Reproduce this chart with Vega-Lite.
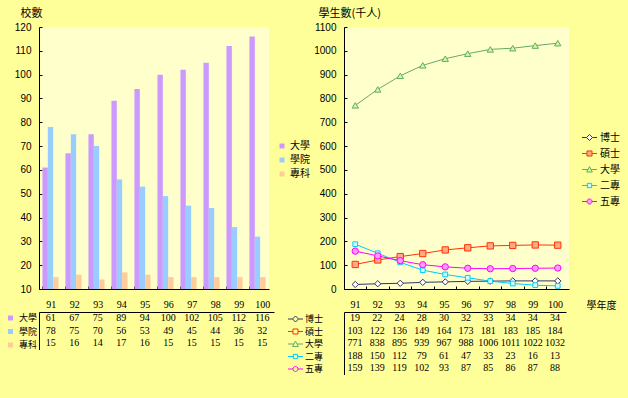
{
  "$schema": "https://vega.github.io/schema/vega-lite/v6.json",
  "background": "#FFFF99",
  "padding": {"left": 6, "top": 7, "right": 12, "bottom": 23},
  "config": {
    "view": {"stroke": null},
    "font": "Liberation Sans",
    "axis": {"domainColor": "#000000", "tickColor": "#000000", "labelColor": "#000000", "labelFontSize": 10, "labelFont": "Liberation Sans", "grid": false, "titleFont": "Noto Sans CJK TC", "titleFontWeight": "normal", "titleFontSize": 11, "titleColor": "#000000", "domainWidth": 1},
    "legend": {"labelFont": "Noto Sans CJK TC", "labelFontSize": 10, "labelColor": "#000000", "title": null, "padding": 0}
  },
  "datasets": {
    "schools": [
      {"year": 91, "type": "大學", "n": 61}, {"year": 91, "type": "學院", "n": 78}, {"year": 91, "type": "專科", "n": 15},
      {"year": 92, "type": "大學", "n": 67}, {"year": 92, "type": "學院", "n": 75}, {"year": 92, "type": "專科", "n": 16},
      {"year": 93, "type": "大學", "n": 75}, {"year": 93, "type": "學院", "n": 70}, {"year": 93, "type": "專科", "n": 14},
      {"year": 94, "type": "大學", "n": 89}, {"year": 94, "type": "學院", "n": 56}, {"year": 94, "type": "專科", "n": 17},
      {"year": 95, "type": "大學", "n": 94}, {"year": 95, "type": "學院", "n": 53}, {"year": 95, "type": "專科", "n": 16},
      {"year": 96, "type": "大學", "n": 100}, {"year": 96, "type": "學院", "n": 49}, {"year": 96, "type": "專科", "n": 15},
      {"year": 97, "type": "大學", "n": 102}, {"year": 97, "type": "學院", "n": 45}, {"year": 97, "type": "專科", "n": 15},
      {"year": 98, "type": "大學", "n": 105}, {"year": 98, "type": "學院", "n": 44}, {"year": 98, "type": "專科", "n": 15},
      {"year": 99, "type": "大學", "n": 112}, {"year": 99, "type": "學院", "n": 36}, {"year": 99, "type": "專科", "n": 15},
      {"year": 100, "type": "大學", "n": 116}, {"year": 100, "type": "學院", "n": 32}, {"year": 100, "type": "專科", "n": 15}
    ],
    "students": [
      {"year": 91, "level": "博士", "n": 19}, {"year": 92, "level": "博士", "n": 22}, {"year": 93, "level": "博士", "n": 24}, {"year": 94, "level": "博士", "n": 28}, {"year": 95, "level": "博士", "n": 30},
      {"year": 96, "level": "博士", "n": 32}, {"year": 97, "level": "博士", "n": 33}, {"year": 98, "level": "博士", "n": 34}, {"year": 99, "level": "博士", "n": 34}, {"year": 100, "level": "博士", "n": 34},
      {"year": 91, "level": "碩士", "n": 103}, {"year": 92, "level": "碩士", "n": 122}, {"year": 93, "level": "碩士", "n": 136}, {"year": 94, "level": "碩士", "n": 149}, {"year": 95, "level": "碩士", "n": 164},
      {"year": 96, "level": "碩士", "n": 173}, {"year": 97, "level": "碩士", "n": 181}, {"year": 98, "level": "碩士", "n": 183}, {"year": 99, "level": "碩士", "n": 185}, {"year": 100, "level": "碩士", "n": 184},
      {"year": 91, "level": "大學", "n": 771}, {"year": 92, "level": "大學", "n": 838}, {"year": 93, "level": "大學", "n": 895}, {"year": 94, "level": "大學", "n": 939}, {"year": 95, "level": "大學", "n": 967},
      {"year": 96, "level": "大學", "n": 988}, {"year": 97, "level": "大學", "n": 1006}, {"year": 98, "level": "大學", "n": 1011}, {"year": 99, "level": "大學", "n": 1022}, {"year": 100, "level": "大學", "n": 1032},
      {"year": 91, "level": "二專", "n": 188}, {"year": 92, "level": "二專", "n": 150}, {"year": 93, "level": "二專", "n": 112}, {"year": 94, "level": "二專", "n": 79}, {"year": 95, "level": "二專", "n": 61},
      {"year": 96, "level": "二專", "n": 47}, {"year": 97, "level": "二專", "n": 33}, {"year": 98, "level": "二專", "n": 23}, {"year": 99, "level": "二專", "n": 16}, {"year": 100, "level": "二專", "n": 13},
      {"year": 91, "level": "五專", "n": 159}, {"year": 92, "level": "五專", "n": 139}, {"year": 93, "level": "五專", "n": 119}, {"year": 94, "level": "五專", "n": 102}, {"year": 95, "level": "五專", "n": 93},
      {"year": 96, "level": "五專", "n": 87}, {"year": 97, "level": "五專", "n": 85}, {"year": 98, "level": "五專", "n": 86}, {"year": 99, "level": "五專", "n": 87}, {"year": 100, "level": "五專", "n": 88}
    ]
  },
  "columns": 2,
  "bounds": "flush",
  "align": "each",
  "spacing": {"row": 23, "column": 70},
  "resolve": {
    "scale": {"color": "independent", "shape": "independent", "fill": "independent", "stroke": "independent"},
    "legend": {"color": "independent", "shape": "independent", "fill": "independent", "stroke": "independent"}
  },
  "concat": [
    {
      "width": 230,
      "height": 262,
      "data": {"name": "schools"},
      "view": {"fill": "#FFFFCC", "stroke": null},
      "mark": {"type": "bar"},
      "encoding": {
        "x": {"field": "year", "type": "ordinal", "scale": {"paddingInner": 0.3, "paddingOuter": 0.15}, "axis": {"labels": false, "title": null, "tickSize": -3, "bandPosition": 0}},
        "xOffset": {"field": "type", "type": "nominal", "scale": {"domain": ["大學", "學院", "專科"], "paddingInner": 0}},
        "y": {"field": "n", "type": "quantitative", "scale": {"domain": [10, 120], "nice": false, "zero": false},
          "axis": {"values": [10, 20, 30, 40, 50, 60, 70, 80, 90, 100, 110, 120], "title": "校數", "titleAngle": 0, "titleAlign": "left", "titleBaseline": "middle", "titleX": -19, "titleY": -14, "tickSize": -3, "labelPadding": 11}},
        "y2": {"datum": 10},
        "color": {"field": "type", "type": "nominal", "scale": {"domain": ["大學", "學院", "專科"], "range": ["#CC99FF", "#99CCFF", "#FFCC99"]},
          "legend": {"orient": "none", "legendX": 238, "legendY": 114, "symbolType": "square", "symbolSize": 25, "rowPadding": 4, "labelOffset": 3}}
      }
    },
    {
      "width": 225,
      "height": 262,
      "data": {"name": "students"},
      "view": {"fill": "#FFFFCC", "stroke": null},
      "encoding": {
        "x": {"field": "year", "type": "ordinal", "scale": {"type": "band", "paddingInner": 0, "paddingOuter": 0}, "axis": {"labels": false, "title": null, "tickSize": -3, "bandPosition": 0}},
        "y": {"field": "n", "type": "quantitative", "scale": {"domain": [0, 1100], "nice": false},
          "axis": {"values": [0, 100, 200, 300, 400, 500, 600, 700, 800, 900, 1000, 1100], "format": "d", "title": "學生數(千人)", "titleAngle": 0, "titleAlign": "left", "titleBaseline": "middle", "titleX": -26, "titleY": -14, "tickSize": -3, "labelPadding": 11}}
      },
      "layer": [
        {"mark": {"type": "line", "strokeWidth": 1},
          "encoding": {"color": {"field": "level", "type": "nominal", "scale": {"domain": ["博士", "碩士", "大學", "二專", "五專"], "range": ["#333366", "#FF3300", "#66AA66", "#00CCFF", "#FF00FF"]},
            "legend": {"orient": "none", "legendX": 239, "legendY": 104, "symbolSize": 144, "symbolStrokeWidth": 1, "rowPadding": 4, "labelOffset": 4}}}},
        {"mark": {"type": "point", "filled": false, "size": 40, "strokeWidth": 1, "opacity": 1,
            "shape": {"expr": "datum.level === '博士' ? 'diamond' : datum.level === '碩士' ? 'square' : datum.level === '大學' ? 'triangle-up' : datum.level === '二專' ? 'M-0.75,-0.75H0.75V0.75H-0.75Z' : 'circle'"}},
          "encoding": {
            "color": {"field": "level", "type": "nominal", "scale": {"domain": ["博士", "碩士", "大學", "二專", "五專"], "range": ["#333366", "#FF3300", "#66AA66", "#00CCFF", "#FF00FF"]},
              "legend": {"orient": "none", "legendX": 239, "legendY": 104, "symbolSize": 144, "symbolStrokeWidth": 1, "rowPadding": 4, "labelOffset": 4}},
            "fill": {"field": "level", "type": "nominal", "scale": {"domain": ["博士", "碩士", "大學", "二專", "五專"], "range": ["#FFFFFF", "#FFAA88", "#CCFF99", "#CCFFFF", "#FF99FF"]},
              "legend": {"orient": "none", "legendX": 239, "legendY": 104, "symbolSize": 144, "symbolStrokeWidth": 1, "rowPadding": 4, "labelOffset": 4}}
          }},
        {"mark": {"type": "point", "filled": false, "strokeWidth": 1, "opacity": 0},
          "encoding": {
            "shape": {"field": "level", "type": "nominal", "scale": {"domain": ["博士", "碩士", "大學", "二專", "五專"], "range": ["M-1.25,0H-0.5M0.5,0H1.25M0,-0.5L0.5,0L0,0.5L-0.5,0Z", "M-1.25,0H-0.42M0.42,0H1.25M-0.42,-0.42H0.42V0.42H-0.42Z", "M-1.25,0H-0.25M0.25,0H1.25M0,-0.48L0.48,0.42H-0.48Z", "M-1.25,0H-0.36M0.36,0H1.25M-0.36,-0.36H0.36V0.36H-0.36Z", "M-1.25,0H-0.42M0.42,0H1.25M-0.42,0A0.42,0.42 0 1,0 0.42,0A0.42,0.42 0 1,0 -0.42,0Z"]},
              "legend": {"orient": "none", "legendX": 239, "legendY": 104, "symbolSize": 144, "symbolStrokeWidth": 1, "rowPadding": 4, "labelOffset": 4}},
            "color": {"field": "level", "type": "nominal", "scale": {"domain": ["博士", "碩士", "大學", "二專", "五專"], "range": ["#333366", "#FF3300", "#66AA66", "#00CCFF", "#FF00FF"]}},
            "fill": {"field": "level", "type": "nominal", "scale": {"domain": ["博士", "碩士", "大學", "二專", "五專"], "range": ["#FFFFFF", "#FFAA88", "#CCFF99", "#CCFFFF", "#FF99FF"]}}
          }}
      ]
    },
    {
      "width": 235,
      "height": 37.5,
      "data": {"name": "schools"},
      "encoding": {
        "x": {"field": "year", "type": "ordinal", "scale": {"paddingInner": 0, "paddingOuter": 0}, "axis": {"orient": "top", "ticks": false, "title": null, "labelPadding": 3, "labelAngle": 0, "labelFont": "Liberation Serif", "labelFontSize": 10}},
        "y": {"field": "type", "type": "nominal", "scale": {"domain": ["大學", "學院", "專科"]}, "axis": {"labels": false, "ticks": false, "title": null}}
      },
      "layer": [
        {"mark": {"type": "text", "font": "Liberation Serif", "fontSize": 10, "color": "#000000"}, "encoding": {"text": {"field": "n", "type": "quantitative"}}},
        {"mark": {"type": "point", "shape": "square", "filled": true, "opacity": 0},
          "encoding": {"color": {"field": "type", "type": "nominal", "scale": {"domain": ["大學", "學院", "專科"], "range": ["#CC99FF", "#99CCFF", "#FFCC99"]},
            "legend": {"orient": "none", "legendX": -33, "legendY": 1.5, "symbolType": "square", "symbolSize": 25, "rowPadding": 3.5, "labelOffset": 4, "labelFontSize": 9}}}}
      ]
    },
    {
      "width": 222,
      "height": 62.5,
      "data": {"name": "students"},
      "encoding": {
        "x": {"field": "year", "type": "ordinal", "scale": {"paddingInner": 0, "paddingOuter": 0}, "axis": {"orient": "top", "ticks": false, "labelPadding": 3, "labelAngle": 0, "labelFont": "Liberation Serif", "labelFontSize": 10,
          "title": "學年度", "titleFontSize": 10, "titleAngle": 0, "titleAlign": "left", "titleBaseline": "middle", "titleX": 242, "titleY": -7}},
        "y": {"field": "level", "type": "nominal", "scale": {"domain": ["博士", "碩士", "大學", "二專", "五專"]}, "axis": {"labels": false, "ticks": false, "title": null}}
      },
      "layer": [
        {"mark": {"type": "text", "font": "Liberation Serif", "fontSize": 10, "color": "#000000"}, "encoding": {"text": {"field": "n", "type": "quantitative"}}},
        {"mark": {"type": "point", "filled": false, "opacity": 0, "strokeWidth": 1},
          "encoding": {
            "shape": {"field": "level", "type": "nominal", "scale": {"domain": ["博士", "碩士", "大學", "二專", "五專"], "range": ["M-1.25,0H-0.5M0.5,0H1.25M0,-0.5L0.5,0L0,0.5L-0.5,0Z", "M-1.25,0H-0.42M0.42,0H1.25M-0.42,-0.42H0.42V0.42H-0.42Z", "M-1.25,0H-0.25M0.25,0H1.25M0,-0.48L0.48,0.42H-0.48Z", "M-1.25,0H-0.36M0.36,0H1.25M-0.36,-0.36H0.36V0.36H-0.36Z", "M-1.25,0H-0.42M0.42,0H1.25M-0.42,0A0.42,0.42 0 1,0 0.42,0A0.42,0.42 0 1,0 -0.42,0Z"]},
              "legend": {"orient": "none", "legendX": -55, "legendY": 0.5, "symbolSize": 144, "symbolStrokeWidth": 1, "rowPadding": 0.5, "labelOffset": 3, "labelFontSize": 9}},
            "stroke": {"field": "level", "type": "nominal", "scale": {"domain": ["博士", "碩士", "大學", "二專", "五專"], "range": ["#333366", "#FF3300", "#66AA66", "#00CCFF", "#FF00FF"]}},
            "fill": {"field": "level", "type": "nominal", "scale": {"domain": ["博士", "碩士", "大學", "二專", "五專"], "range": ["#FFFFFF", "#FFAA88", "#CCFF99", "#CCFFFF", "#FF99FF"]}}
          }}
      ]
    }
  ]
}
